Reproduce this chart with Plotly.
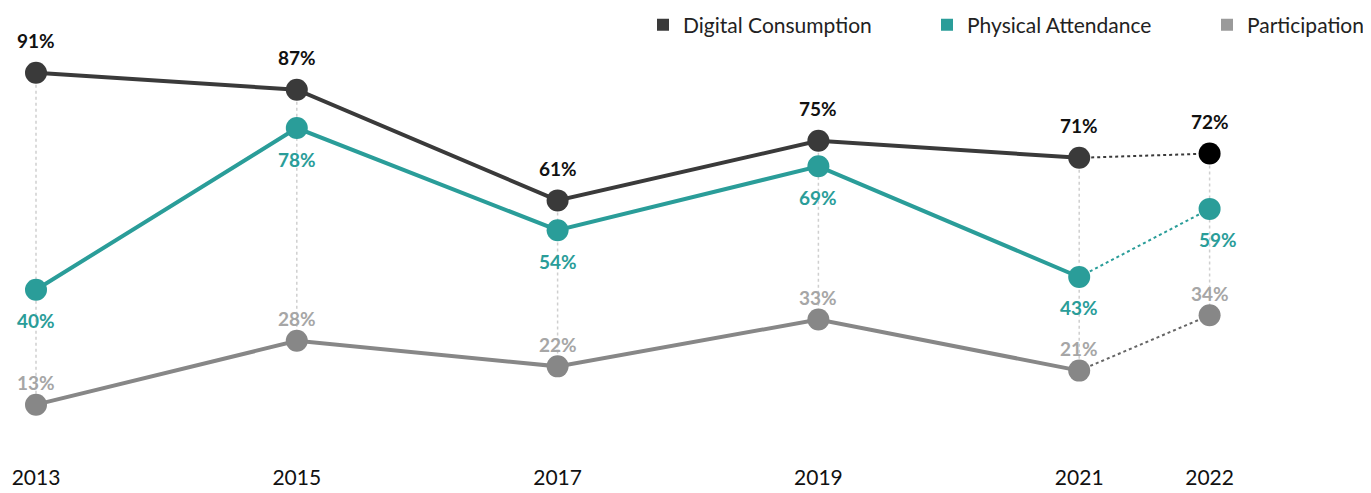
import plotly.graph_objects as go

years = [2013, 2015, 2017, 2019, 2021, 2022]
year_labels = ["2013", "2015", "2017", "2019", "2021", "2022"]
digital = [91, 87, 61, 75, 71, 72]
physical = [40, 78, 54, 69, 43, 59]
participation = [13, 28, 22, 33, 21, 34]

series = [
    dict(name="Digital Consumption", vals=digital, color="#3a3a3a", last="#000000",
         dot="#3a3a3a", lab="#111111", legc="#3a3a3a", shift=32),
    dict(name="Physical Attendance", vals=physical, color="#2a9d99", last="#2a9d99",
         dot="#2a9d99", lab="#2a9d99", legc="#2a9d99", shift=-31),
    dict(name="Participation", vals=participation, color="#878787", last="#878787",
         dot="#666666", lab="#a6a6a6", legc="#9a9a9a", shift=22),
]

FONT = "Lato"
W, H = 1363, 485          # page body has an 8px margin
B = 30
fig = go.Figure()

# vertical dotted guides
vx, vy = [], []
for i, yr in enumerate(years):
    col = [s["vals"][i] for s in series]
    vx += [yr, yr, None]
    vy += [max(col), min(col), None]
fig.add_trace(go.Scatter(x=vx, y=vy, mode="lines", showlegend=False, hoverinfo="skip",
                         line=dict(color="#cfcfcf", width=1.5, dash="dot")))

annotations = []
for k, s in enumerate(series):
    v = s["vals"]
    fig.add_trace(go.Scatter(x=years[:-1], y=v[:-1], mode="lines", showlegend=False,
                             line=dict(color=s["color"], width=4)))
    fig.add_trace(go.Scatter(x=years[-2:], y=v[-2:], mode="lines", showlegend=False,
                             line=dict(color=s["dot"], width=2, dash="dot")))
    fig.add_trace(go.Scatter(x=years, y=v, mode="markers", showlegend=False,
                             marker=dict(size=22, color=[s["color"]] * (len(v) - 1) + [s["last"]])))
    leg = "legend" if k == 0 else f"legend{k+1}"
    fig.add_trace(go.Scatter(x=[None], y=[None], mode="markers", name=s["name"], legend=leg,
                             marker=dict(size=16, symbol="square", color=s["legc"])))
    for i, yr in enumerate(years):
        annotations.append(dict(x=yr, y=v[i], text=f"{v[i]}%", showarrow=False,
                                yshift=s["shift"], xshift=(8 if (k == 1 and i == len(years) - 1) else 0),
                                font=dict(family=FONT, size=19, color=s["lab"], weight="bold")))

leg_y = (H - B - 17) / (H - B)
leg_common = dict(orientation="h", yanchor="middle", xanchor="left", y=leg_y,
                  bgcolor="rgba(0,0,0,0)", font=dict(family=FONT, size=21, color="#222222"),
                  itemsizing="constant")
fig.update_layout(
    width=W, height=H,
    margin=dict(l=0, r=0, t=0, b=B, autoexpand=False),
    plot_bgcolor="white", paper_bgcolor="white",
    showlegend=True,
    legend=dict(x=635 / W, **leg_common),
    legend2=dict(x=919 / W, **leg_common),
    legend3=dict(x=1199 / W, **leg_common),
    xaxis=dict(range=[2012.7853, 2023.2377], tickvals=years, ticktext=year_labels,
               showgrid=False, zeroline=False, showline=False, ticks="",
               automargin=False,
               tickfont=dict(family=FONT, size=21, color="#111111")),
    yaxis=dict(range=[-0.705, 106.2], visible=False, showgrid=False, zeroline=False,
               automargin=False),
    annotations=annotations,
)
fig.write_html("out.html")
